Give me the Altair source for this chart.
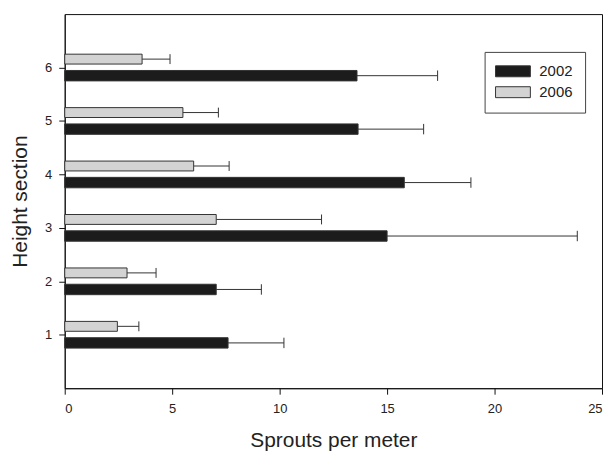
import altair as alt
import pandas as pd

sections = [1, 2, 3, 4, 5, 6]
years = ["2002", "2006"]
mean_2002 = [7.6, 7.05, 15.0, 15.8, 13.65, 13.6]
err_2002 = [2.6, 2.1, 8.85, 3.1, 3.05, 3.75]
mean_2006 = [2.45, 2.9, 7.05, 6.0, 5.5, 3.6]
err_2006 = [1.0, 1.35, 4.9, 1.65, 1.65, 1.3]
x_ticks = [0, 5, 10, 15, 20, 25]
y_ticks = [1, 2, 3, 4, 5, 6]
colors = ["#1c1c1c", "#d3d3d3"]

rows = []
for s, m, e in zip(sections, mean_2002, err_2002):
    rows.append({"section": s, "year": "2002", "mean": m, "err": e, "zero": 0})
for s, m, e in zip(sections, mean_2006, err_2006):
    rows.append({"section": s, "year": "2006", "mean": m, "err": e, "zero": 0})
df = pd.DataFrame(rows)

FONT = "Liberation Sans"

xscale = alt.Scale(domain=[0, 25], nice=False, zero=True)
yscale = alt.Scale(domain=[0, 7], nice=False)

base = alt.Chart(df).transform_calculate(
    lo="datum.section + (datum.year == '2002' ? -0.25 : 0.065)",
    hi="datum.section + (datum.year == '2002' ? -0.055 : 0.25)",
    mid="(datum.lo + datum.hi) / 2",
    upper="datum.mean + datum.err",
)

xaxis = alt.Axis(values=x_ticks, format="d", title="Sprouts per meter", grid=False, tickSize=6,
                 labelPadding=8, labelFontSize=13, titleFontSize=21,
                 titleFontWeight="normal", titlePadding=15, domainColor="#111",
                 tickColor="#111", labelColor="#222", titleColor="#222",
                 labelFont=FONT, titleFont=FONT)
yaxis = alt.Axis(values=y_ticks, format="d", title="Height section", grid=False, tickSize=6,
                 labelPadding=7, labelFontSize=13, titleFontSize=21,
                 titleFontWeight="normal", titlePadding=14, domainColor="#111",
                 tickColor="#111", labelColor="#222", titleColor="#222",
                 labelFont=FONT, titleFont=FONT)

bars = base.mark_bar(stroke="#333", strokeWidth=1).encode(
    x=alt.X("zero:Q", scale=xscale, axis=xaxis),
    x2="mean:Q",
    y=alt.Y("lo:Q", scale=yscale, axis=yaxis),
    y2="hi:Q",
    fill=alt.Fill("year:N", scale=alt.Scale(domain=years, range=colors),
                  legend=alt.Legend(title=None, orient="none", legendX=422, legendY=38,
                                    strokeColor="#444", fillColor="white", padding=12,
                                    symbolType="M-3.5,-1.1H3.5V1.1H-3.5Z", symbolSize=100,
                                    symbolStrokeColor="#333", symbolStrokeWidth=1,
                                    symbolOffset=9, labelOffset=19, labelFontSize=15,
                                    labelFont=FONT, labelColor="#222", rowPadding=5)),
)

err_line = base.mark_rule(color="#333", strokeWidth=1).encode(
    x="mean:Q", x2="upper:Q", y="mid:Q"
)
err_cap = base.mark_rule(color="#333", strokeWidth=1).encode(
    x="upper:Q", y="lo:Q", y2="hi:Q"
)

chart = alt.layer(err_line, err_cap, bars).properties(
    width=540, height=376,
    autosize=alt.AutoSizeParams(type="none"),
    padding={"left": 57, "top": 5, "right": 2, "bottom": 64},
).configure_view(stroke="#111", strokeWidth=1)

chart.save("out.html", embed_options={"renderer": "svg", "actions": False})
